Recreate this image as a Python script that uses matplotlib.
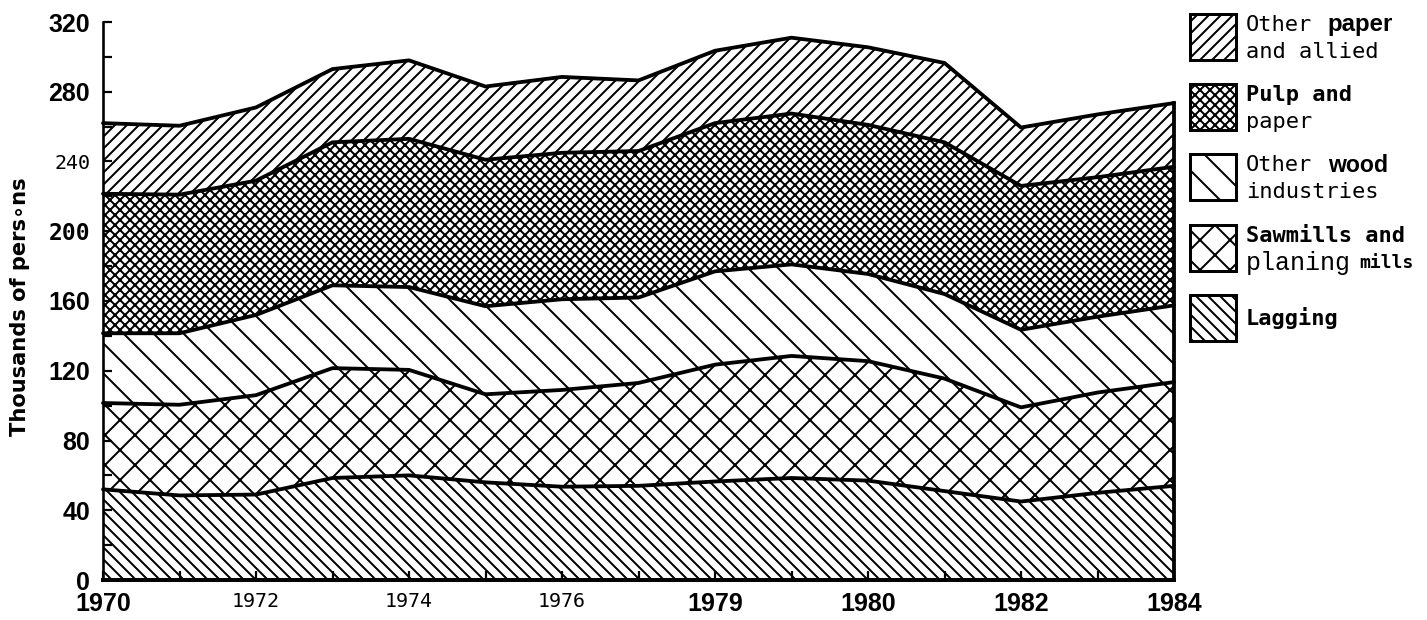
import matplotlib
matplotlib.use("Agg")
import matplotlib.pyplot as plt
from matplotlib.patches import Rectangle
from matplotlib.ticker import FixedLocator, MultipleLocator
import numpy as np

# ---- data: employment by industry group, thousands of persons ----
years = list(range(1970, 1985))
lagging = [52, 48.5, 49, 58.5, 60, 56, 53.5, 54, 56.5, 58.5, 57, 51, 45, 50, 54]
sawmills = [49.5, 52, 57, 63, 60.5, 50.5, 55.5, 59, 67, 70, 68.5, 64.5, 54, 57.5, 59.5]
other_wood = [40, 41, 46, 47.5, 47.5, 50.5, 52, 49, 53.5, 52.5, 50, 48.5, 44.5, 43.5, 44]
pulp_paper = [80, 79.5, 77, 82, 85, 84, 84, 84, 85, 86.5, 85.5, 87, 82.5, 80, 79.5]
other_paper = [40.5, 39.5, 42, 42, 45, 42, 43.5, 40.5, 41.5, 43.5, 44.5, 45.5, 33.5, 36, 36.5]

x_tick_years = [1970, 1972, 1974, 1976, 1978, 1980, 1982, 1984]
x_tick_labels = ["1970", "1972", "1974", "1976", "1979", "1980", "1982", "1984"]
y_ticks = [0, 40, 80, 120, 160, 200, 240, 280, 320]
y_tick_labels = ["0", "40", "80", "120", "160", "200", "240", "280", "320"]
y_label = "Thousands of pers\u2218ns"

# ---- figure geometry (pixel based) ----
W, H, DPI = 1427, 620, 180
PT = 72.0 / DPI  # points per pixel

plt.rcParams["hatch.linewidth"] = 2.0 * PT
plt.rcParams["hatch.color"] = "black"

fig = plt.figure(figsize=(W / DPI, H / DPI), dpi=DPI)
fig.patch.set_facecolor("white")

left_px, right_px, bottom_px, top_px = 103, 1174, 580, 22
ax = fig.add_axes([left_px / W, 1 - bottom_px / H,
                   (right_px - left_px) / W, (bottom_px - top_px) / H])

SANS_BOLD = dict(family=["Liberation Sans", "DejaVu Sans"], weight="bold")
MONO = dict(family=["DejaVu Sans Mono"], weight="normal")
MONO_BOLD = dict(family=["DejaVu Sans Mono"], weight="bold")
COURIER = dict(family=["Liberation Mono", "DejaVu Sans Mono"], weight="normal")

# fill patterns, bottom layer first
BS, FS = "\\", "/"
hatches = [BS * 5, "xx", BS * 2, "x" * 6, FS * 5]
layers = [lagging, sawmills, other_wood, pulp_paper, other_paper]

ax.stackplot(years, *layers, colors=["white"] * 5, hatch=hatches,
             edgecolor="black", linewidth=0)

tops = np.cumsum(np.array(layers, dtype=float), axis=0)
for top in tops:
    ax.plot(years, top, color="black", lw=3.8 * PT, solid_joinstyle="round",
            solid_capstyle="round", zorder=3, clip_on=False)
ax.plot([years[-1], years[-1]], [0, tops[-1][-1]], color="black",
        lw=3.8 * PT, zorder=3, clip_on=False)

ax.set_xlim(years[0], years[-1])
ax.set_ylim(0, 320)

for side in ("top", "right"):
    ax.spines[side].set_visible(False)
ax.spines["left"].set_linewidth(2.6 * PT)
ax.spines["bottom"].set_linewidth(4.0 * PT)
ax.spines["left"].set_zorder(4)
ax.spines["bottom"].set_zorder(4)

ax.xaxis.set_major_locator(FixedLocator(x_tick_years))
ax.xaxis.set_minor_locator(MultipleLocator(1))
ax.set_xticklabels(x_tick_labels)
ax.yaxis.set_major_locator(FixedLocator(y_ticks))
ax.yaxis.set_minor_locator(MultipleLocator(20))
ax.set_yticklabels(y_tick_labels)

ax.tick_params(axis="both", which="both", direction="in", color="black",
               width=2.2 * PT, length=9 * PT)
ax.tick_params(axis="x", which="major", pad=12 * PT)
ax.tick_params(axis="y", which="major", pad=13 * PT)

spaced_light = {"1972", "1974", "1976", "240"}
spaced_heavy = {"200"}
for lab in ax.get_xticklabels() + ax.get_yticklabels():
    t = lab.get_text()
    if t in spaced_light:
        lab.set_fontfamily(MONO["family"])
        lab.set_fontweight("normal")
        lab.set_fontsize(20 * PT)
    elif t in spaced_heavy:
        lab.set_fontfamily(MONO_BOLD["family"])
        lab.set_fontweight("bold")
        lab.set_fontsize(23 * PT)
    else:
        lab.set_fontfamily(SANS_BOLD["family"])
        lab.set_fontweight("bold")
        lab.set_fontsize(25 * PT)

fig.text(20 / W, 1 - 307 / H, y_label, rotation=90, ha="center", va="center",
         family=["DejaVu Sans"], weight="bold", fontsize=21 * PT)

# ---- legend drawn beside the plot ----
box_x, box_w = 1190, 46
row_tops = [14, 84, 154, 225, 295]
legend_hatches = [FS * 5, "x" * 6, BS * 2, "xx", BS * 5]
text_x = 1246
legend_rows = [
    [[("Other", MONO, 22, text_x), ("paper", SANS_BOLD, 24, 1327)],
     [("and allied", MONO, 22, text_x)]],
    [[("Pulp and", MONO_BOLD, 22, text_x)],
     [("paper", MONO, 22, text_x)]],
    [[("Other", MONO, 22, text_x), ("wood", SANS_BOLD, 23, 1328)],
     [("industries", MONO, 22, text_x)]],
    [[("Sawmills and", MONO_BOLD, 22, text_x)],
     [("planing", COURIER, 25, text_x), ("mills", MONO_BOLD, 18, 1359)]],
    [[("Lagging", MONO_BOLD, 22, text_x)]],
]

for top, hatch, lines in zip(row_tops, legend_hatches, legend_rows):
    fig.add_artist(Rectangle((box_x / W, 1 - (top + box_w) / H), box_w / W, box_w / H,
                             transform=fig.transFigure, facecolor="white",
                             edgecolor="black", hatch=hatch, lw=3.0 * PT))
    if len(lines) == 1:
        centers = [top + box_w / 2]
    else:
        centers = [top + 11, top + 38]
    for cy, segs in zip(centers, lines):
        for txt, style, size_px, x in segs:
            fig.text(x / W, 1 - cy / H, txt, ha="left", va="center",
                     family=style["family"], weight=style["weight"],
                     fontsize=size_px * PT)

fig.savefig("out.png", dpi=DPI, facecolor="white")
